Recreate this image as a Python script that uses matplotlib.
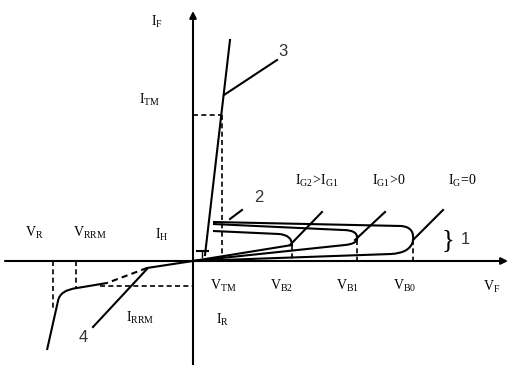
import matplotlib
matplotlib.use("Agg")
import matplotlib.pyplot as plt
from matplotlib.path import Path
from matplotlib.patches import PathPatch

plt.rcParams['mathtext.fontset'] = 'custom'
plt.rcParams['mathtext.rm'] = 'Liberation Serif'
plt.rcParams['mathtext.it'] = 'Liberation Serif'

# schematic units: v = forward voltage, i = forward current (origin at axes crossing)
# steep on-state line
on_v = [37, 12]
on_i = [221, 6]

# forward blocking loops (upper branch, corner, lower branch back to origin)
ig0_pts = [(20, 39), (208, 35), (222, 34), (220, 20), (217, 8), (198, 7), (0, 0)]
ig1_pts = [(20, 37), (150, 31), (166, 31), (164, 21), (162, 17), (152, 16), (0, 0)]
ig2_pts = [(20, 30), (86, 27), (99, 26), (99, 16), (0, 0)]

# reverse characteristic
rev_solid1_v = [0, -46]
rev_solid1_i = [0, -7]
rev_dash_v = [-46, -86]
rev_dash_i = [-7, -22]
rev_knee = [(-86, -22), (-116, -27), (-133, -29), (-135, -40), (-146, -89)]

# reference (dashed) levels
v_tm, i_tm = 29, 146
v_b = [99, 164, 220]
i_b = [16, 21, 21]
v_r, v_rrm, i_rrm = -140, -117, -25

# pointer lines for numbered labels and gate curves
pointers = [
    ((31, 166), (84, 201)),     # 3
    ((37, 42), (49, 51)),       # 2
    ((-100, -66), (-46, -8)),   # 4
    ((97, 16), (129, 49)),      # IG2>IG1
    ((162, 21), (192, 49)),     # IG1>0
    ((220, 21), (250, 51)),     # IG=0
]

axis_labels = [
    (r'$\mathrm{I}_{\mathrm{F}}$', -36, 239),
    (r'$\mathrm{I}_{\mathrm{TM}}$', -43, 161),
    (r'$\mathrm{I}_{\mathrm{H}}$', -31, 26),
    (r'$\mathrm{V}_{\mathrm{R}}$', -159, 28),
    (r'$\mathrm{V}_{\mathrm{RRM}}$', -103, 28),
    (r'$\mathrm{V}_{\mathrm{TM}}$', 30, -25),
    (r'$\mathrm{V}_{\mathrm{B2}}$', 88, -25),
    (r'$\mathrm{V}_{\mathrm{B1}}$', 154, -25),
    (r'$\mathrm{V}_{\mathrm{B0}}$', 212, -25),
    (r'$\mathrm{V}_{\mathrm{F}}$', 299, -26),
    (r'$\mathrm{I}_{\mathrm{R}}$', 30, -59),
    (r'$\mathrm{I}_{\mathrm{RRM}}$', -53, -57),
    (r'$\mathrm{I}_{\mathrm{G2}}\!>\!\mathrm{I}_{\mathrm{G1}}$', 124, 80),
    (r'$\mathrm{I}_{\mathrm{G1}}\!>\!0$', 196, 80),
    (r'$\mathrm{I}_{\mathrm{G}}\!=\!0$', 270, 80),
]
num_labels = [('1', 272, 21), ('2', 66, 63), ('3', 90, 209), ('4', -110, -77)]


def loop_path(pts):
    codes = [Path.MOVETO, Path.LINETO, Path.CURVE3, Path.CURVE3]
    rest = len(pts) - 4
    if rest == 3:
        codes += [Path.CURVE3, Path.CURVE3, Path.LINETO]
    else:
        codes += [Path.LINETO] * rest
    return Path(pts, codes)


fig = plt.figure(figsize=(5.1, 3.65), dpi=100)
ax = fig.add_axes([0, 0, 1, 1])
ax.set_xlim(-193, 317)
ax.set_ylim(-104, 261)
ax.axis('off')

lw = 1.5
# axes with arrows
ax.annotate('', xy=(315, 0), xytext=(-188, 0),
            arrowprops=dict(arrowstyle='-|>', lw=lw, color='k', mutation_scale=10, shrinkA=0, shrinkB=0))
ax.annotate('', xy=(0, 250), xytext=(0, -104),
            arrowprops=dict(arrowstyle='-|>', lw=lw, color='k', mutation_scale=10, shrinkA=0, shrinkB=0))

# on-state line and holding current mark
ax.plot(on_v, on_i, color='k', lw=lw)
ax.plot([4, 15], [10, 10], color='k', lw=lw)
ax.plot([9, 9], [10, 4], color='k', lw=1.0)

for pts in [ig0_pts, ig1_pts, ig2_pts]:
    ax.add_patch(PathPatch(loop_path(pts), fill=False, lw=lw, ec='k'))

# reverse branch
ax.plot(rev_solid1_v, rev_solid1_i, color='k', lw=lw)
ax.plot(rev_dash_v, rev_dash_i, color='k', lw=lw, ls=(0, (3, 2)))
knee_codes = [Path.MOVETO, Path.LINETO, Path.CURVE3, Path.CURVE3, Path.LINETO]
ax.add_patch(PathPatch(Path(rev_knee, knee_codes), fill=False, lw=lw, ec='k'))

# dashed reference lines
dash = dict(color='k', lw=1.2, ls=(0, (3, 2)))
ax.plot([0, v_tm], [i_tm, i_tm], **dash)
ax.plot([v_tm, v_tm], [i_tm, 0], **dash)
for vb, ib in zip(v_b, i_b):
    ax.plot([vb, vb], [ib, 0], **dash)
ax.plot([v_r, v_r], [0, -49], **dash)
ax.plot([v_rrm, v_rrm], [0, i_rrm - 2], **dash)
ax.plot([-93, 0], [i_rrm, i_rrm], **dash)

for (a, b) in pointers:
    ax.plot([a[0], b[0]], [a[1], b[1]], color='k', lw=lw)

for txt, x, y in axis_labels:
    ax.text(x, y, txt, fontsize=10, ha='center', va='center')

ax.text(255, 21, '}', fontsize=19, family='Liberation Serif', ha='center', va='center')
for txt, x, y in num_labels:
    ax.text(x, y, txt, fontsize=12, family='Liberation Sans', ha='center', va='center', color='#333333')

fig.savefig('out.png', dpi=100)
